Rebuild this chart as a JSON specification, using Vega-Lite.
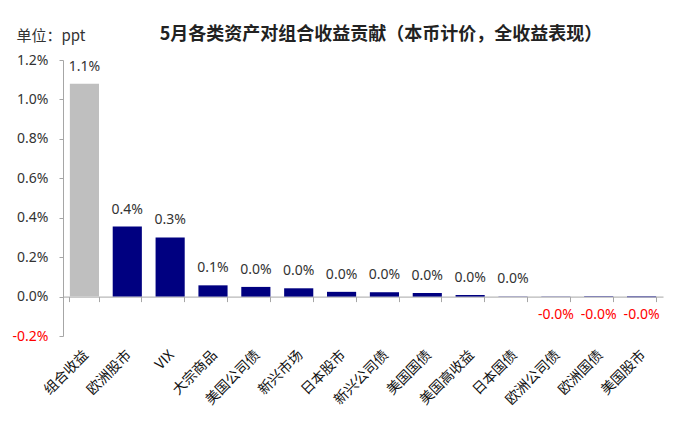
{
  "$schema": "https://vega.github.io/schema/vega-lite/v6.json",
  "width": 600,
  "height": 276,
  "autosize": {"type": "none"},
  "padding": {"left": 63, "top": 60, "right": 25, "bottom": 94},
  "background": "white",
  "config": {
    "view": {"stroke": null},
    "font": "Noto Sans"
  },
  "title": {
    "text": "5月各类资产对组合收益贡献（本币计价，全收益表现）",
    "font": "Noto Sans CJK SC",
    "fontSize": 18,
    "fontWeight": "bold",
    "color": "#222222",
    "anchor": "middle",
    "baseline": "middle",
    "frame": "group",
    "dx": 18,
    "dy": 29
  },
  "data": {
    "values": [
      {"asset": "组合收益", "v": 0.0108, "type": "组合"},
      {"asset": "欧洲股市", "v": 0.00355, "type": "资产"},
      {"asset": "VIX", "v": 0.0030, "type": "资产"},
      {"asset": "大宗商品", "v": 0.00057, "type": "资产"},
      {"asset": "美国公司债", "v": 0.00049, "type": "资产"},
      {"asset": "新兴市场", "v": 0.00042, "type": "资产"},
      {"asset": "日本股市", "v": 0.00024, "type": "资产"},
      {"asset": "新兴公司债", "v": 0.00022, "type": "资产"},
      {"asset": "美国国债", "v": 0.00018, "type": "资产"},
      {"asset": "美国高收益", "v": 0.00008, "type": "资产"},
      {"asset": "日本国债", "v": 0.00001, "type": "资产"},
      {"asset": "欧洲公司债", "v": -0.00001, "type": "资产"},
      {"asset": "欧洲国债", "v": -0.00002, "type": "资产"},
      {"asset": "美国股市", "v": -0.00003, "type": "资产"}
    ]
  },
  "transform": [
    {"calculate": "(datum.v < 0 ? '-' : '') + format(abs(datum.v), '.1%')", "as": "label"}
  ],
  "encoding": {
    "x": {
      "field": "asset",
      "type": "nominal",
      "sort": null,
      "scale": {"paddingInner": 0.32, "paddingOuter": 0.16},
      "axis": {
        "title": null,
        "orient": "bottom",
        "offset": -39.4,
        "domainColor": "#A6A6A6",
        "tickColor": "#A6A6A6",
        "tickSize": 5,
        "bandPosition": 1,
        "tickExtra": true,
        "labelAngle": -45,
        "labelAlign": "right",
        "labelBaseline": "middle",
        "labelPadding": 51,
        "labelOffset": 2,
        "labelFontSize": 14,
        "labelColor": "#111111",
        "labelFont": "Noto Sans CJK SC"
      }
    },
    "y": {
      "field": "v",
      "type": "quantitative",
      "scale": {"domain": [-0.002, 0.012], "nice": false, "zero": false},
      "axis": {
        "title": "单位：ppt",
        "titleFont": "Noto Sans CJK SC",
        "titleAngle": 0,
        "titleAlign": "left",
        "titleBaseline": "middle",
        "titleX": -47,
        "titleY": -25,
        "titleFontSize": 15,
        "titleFontWeight": "normal",
        "titleColor": "#333333",
        "values": [-0.002, 0, 0.002, 0.004, 0.006, 0.008, 0.010, 0.012],
        "format": ".1%",
        "labelExpr": "replace(datum.label, '−', '-')",
        "labelFontSize": 14,
        "labelColor": {"expr": "datum.value < 0 ? '#FF0000' : '#333333'"},
        "labelPadding": 11,
        "grid": false,
        "domainColor": "#A6A6A6",
        "tickColor": "#A6A6A6",
        "tickSize": 4
      }
    }
  },
  "layer": [
    {
      "mark": {"type": "bar"},
      "encoding": {
        "color": {
          "field": "type",
          "type": "nominal",
          "scale": {"domain": ["组合", "资产"], "range": ["#BFBFBF", "#000080"]},
          "legend": null
        }
      }
    },
    {
      "transform": [{"filter": "datum.v >= 0"}],
      "mark": {"type": "text", "fontSize": 14, "align": "center", "baseline": "alphabetic", "dy": -13, "color": "#333333"},
      "encoding": {
        "text": {"field": "label"}
      }
    },
    {
      "transform": [{"filter": "datum.v < 0"}],
      "mark": {"type": "text", "fontSize": 14, "align": "center", "baseline": "top", "dy": 11, "color": "#FF0000"},
      "encoding": {
        "text": {"field": "label"}
      }
    }
  ]
}
